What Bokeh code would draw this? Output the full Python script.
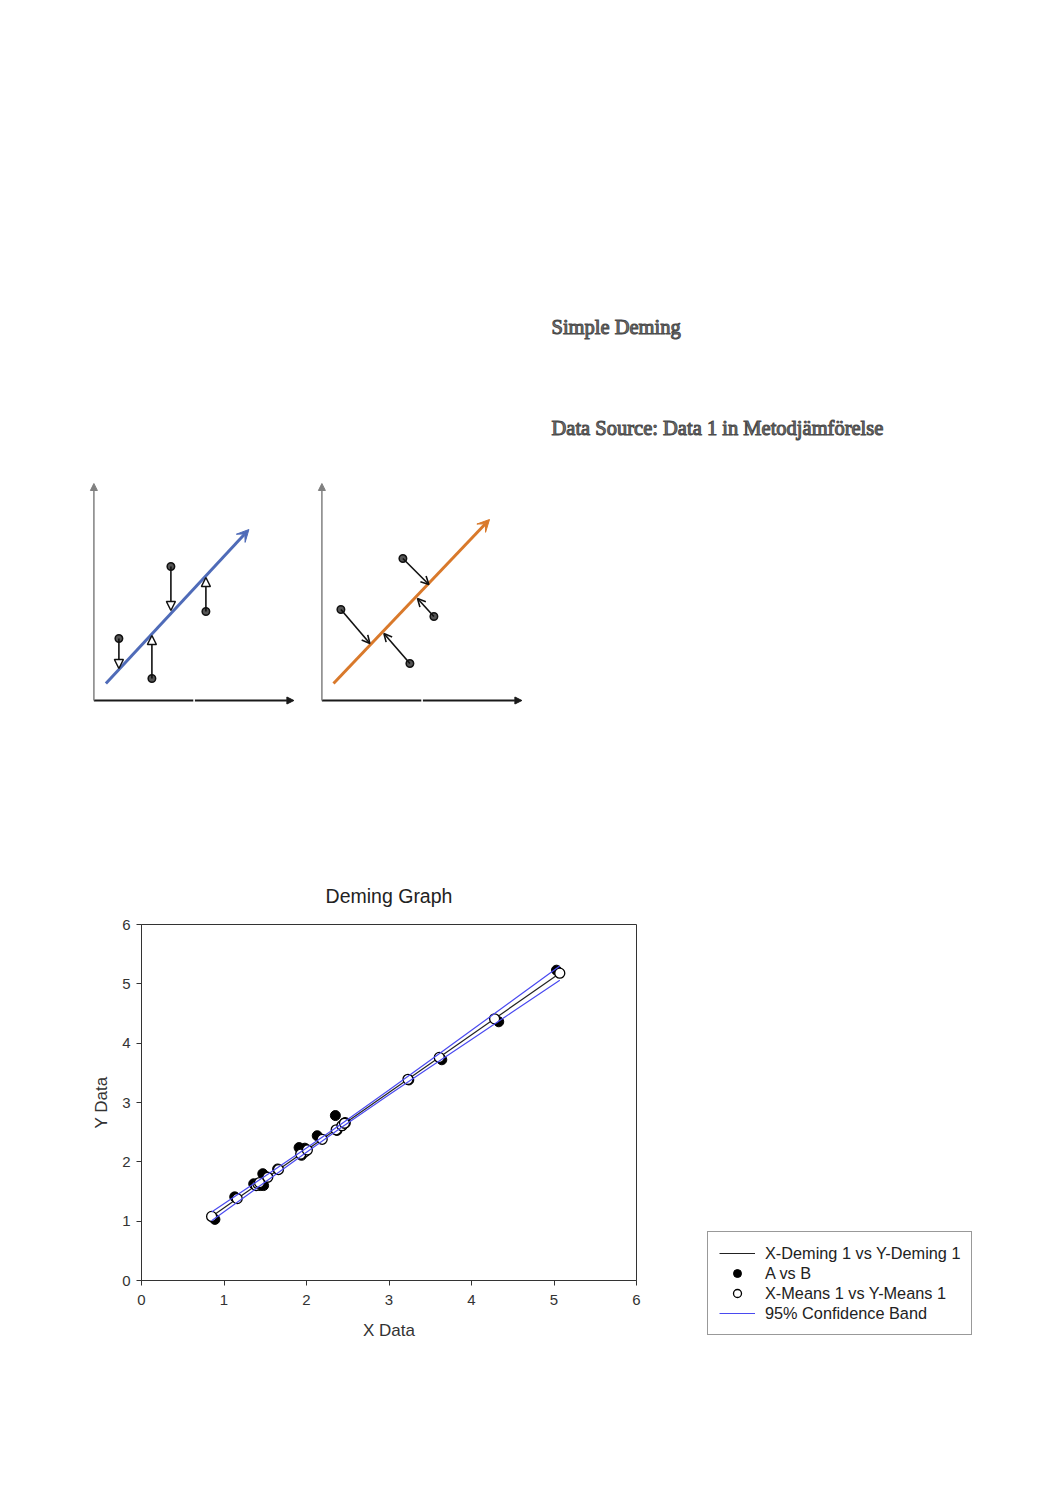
from bokeh.plotting import figure
from bokeh.layouts import column, row
from bokeh.models import (Spacer, Range1d, FixedTicker, Arrow, VeeHead, NormalHead, OpenHead,
                          ColumnDataSource, Legend, LegendItem)
from bokeh.core.properties import value
from bokeh.embed import file_html
from bokeh.resources import INLINE

# ---------------- data ----------------
# Deming graph: raw pairs (A vs B)
a_x = [0.89, 1.13, 1.36, 1.44, 1.47, 1.48, 1.65, 1.91, 1.94, 1.98, 2.13, 2.35, 2.37, 2.43, 2.46, 3.24, 3.64, 4.33, 5.03]
a_y = [1.03, 1.41, 1.63, 1.60, 1.80, 1.60, 1.88, 2.24, 2.11, 2.23, 2.44, 2.78, 2.53, 2.61, 2.65, 3.38, 3.72, 4.36, 5.23]
# X-Means 1 vs Y-Means 1 (points on the Deming line)
means_x = [0.85, 1.16, 1.39, 1.41, 1.53, 1.43, 1.66, 1.98, 1.93, 2.01, 2.19, 2.47, 2.36, 2.43, 2.46, 3.23, 3.61, 4.28, 5.07]
means_y = [1.08, 1.38, 1.60, 1.63, 1.74, 1.65, 1.87, 2.17, 2.13, 2.20, 2.38, 2.66, 2.54, 2.61, 2.65, 3.39, 3.76, 4.41, 5.18]
# X-Deming 1 vs Y-Deming 1
deming_x = [0.85, 5.07]
deming_y = [1.08, 5.18]
# 95% confidence band
band_x = [0.85, 1.5, 2.0, 2.4, 3.0, 3.5, 4.0, 4.5, 5.07]
band_upper = [1.154, 1.761, 2.233, 2.616, 3.209, 3.712, 4.217, 4.723, 5.30]
band_lower = [1.006, 1.661, 2.161, 2.556, 3.129, 3.598, 4.063, 4.529, 5.06]
ticks = [0, 1, 2, 3, 4, 5, 6]
legend_labels = ["X-Deming 1 vs Y-Deming 1", "A vs B", "X-Means 1 vs Y-Means 1", "95% Confidence Band"]

# Schematic diagrams (ordinary least squares vs Deming residuals)
ols_line_x = [0.6, 7.75]
ols_line_y = [0.85, 8.55]
ols_pts_x = [1.25, 2.9, 3.85, 5.6]
ols_pts_y = [3.1, 1.1, 6.7, 4.45]
ols_head_x = [1.25, 2.9, 3.85, 5.6]
ols_head_y = [1.6, 3.25, 4.5, 6.15]

dem_line_x = [0.58, 8.38]
dem_line_y = [0.85, 9.05]
dem_pts_x = [0.95, 4.4, 4.05, 5.6]
dem_pts_y = [4.55, 1.85, 7.1, 4.2]
dem_head_x = [2.4, 3.1, 5.35, 4.78]
dem_head_y = [2.85, 3.35, 5.8, 5.1]

info_texts = ["Simple Deming", "Data Source: Data 1 in Metodjämförelse"]
info_x = [19, 19]
info_y = [26, 127]

SANS = "Liberation Sans"
BLUE = "#4a4af0"


def diagram(lx, ly, line_color, px, py, hx, hy, head):
    d = figure(width=225, height=420, x_range=Range1d(-0.72, 10.53), y_range=Range1d(-1, 20),
               x_axis_type=None, y_axis_type=None, min_border=0, toolbar_location=None,
               output_backend="svg")
    d.outline_line_color = None
    d.xgrid.visible = False
    d.ygrid.visible = False
    # axes of the sketch
    d.add_layout(Arrow(x_start=0, y_start=0, x_end=0, y_end=10.85, line_color="#808080", line_width=1.5,
                       end=NormalHead(size=7, fill_color="#808080", line_color="#808080")))
    d.segment(x0=[0], y0=[0], x1=[4.97], y1=[0], line_color="#1a1a1a", line_width=2)
    d.add_layout(Arrow(x_start=5.05, y_start=0, x_end=10, y_end=0, line_color="#1a1a1a", line_width=2,
                       end=NormalHead(size=7, fill_color="#1a1a1a", line_color="#1a1a1a")))
    # fitted line
    d.add_layout(Arrow(x_start=lx[0], y_start=ly[0], x_end=lx[1], y_end=ly[1], line_color=line_color,
                       line_width=3, end=VeeHead(size=12, fill_color=line_color, line_color=line_color)))
    src = ColumnDataSource(dict(x0=px, y0=py, x1=hx, y1=hy))
    d.add_layout(Arrow(source=src, x_start="x0", y_start="y0", x_end="x1", y_end="y1",
                       line_color="#111111", line_width=1.6, end=head))
    d.scatter(px, py, size=7.5, fill_color="#555555", line_color="#111111", line_width=1.5)
    return d


d1 = diagram(ols_line_x, ols_line_y, "#4f6bb8", ols_pts_x, ols_pts_y, ols_head_x, ols_head_y,
             NormalHead(size=9, fill_color="white", line_color="#111111", line_width=1.5))
d2 = diagram(dem_line_x, dem_line_y, "#d9792b", dem_pts_x, dem_pts_y, dem_head_x, dem_head_y,
             OpenHead(size=8, line_color="#111111", line_width=1.6))

t = figure(width=512, height=420, x_range=Range1d(0, 512), y_range=Range1d(420, 0),
           x_axis_type=None, y_axis_type=None, min_border=0, toolbar_location=None,
           output_backend="svg")
t.outline_line_color = None
t.xgrid.visible = False
t.ygrid.visible = False
t.text(x=info_x, y=info_y, text=info_texts, text_font=value("Liberation Serif"),
       text_font_size="20.5px", text_baseline="middle", text_align="left", text_color="#777777",
       text_outline_color="#4a4a4a")

# ---------------- main chart ----------------
p = figure(width=580, height=488, x_range=Range1d(0, 6), y_range=Range1d(0, 6),
           min_border_left=61, min_border_right=24, min_border_top=62, min_border_bottom=70,
           toolbar_location=None, output_backend="svg", title="Deming Graph")
p.title.align = "center"
p.title.text_font = SANS
p.title.text_font_size = "19.5px"
p.title.text_font_style = "normal"
p.title.text_color = "#222222"
p.title.standoff = 36
p.xgrid.visible = False
p.ygrid.visible = False
p.outline_line_color = "#333333"
p.outline_line_width = 1
for ax in (p.xaxis[0], p.yaxis[0]):
    ax.ticker = FixedTicker(ticks=ticks)
    ax.major_tick_in = 0
    ax.major_tick_out = 5
    ax.minor_tick_out = 0
    ax.minor_tick_in = 0
    ax.axis_line_color = "#333333"
    ax.major_tick_line_color = "#333333"
    ax.major_label_text_font = SANS
    ax.major_label_text_font_size = "15px"
    ax.major_label_text_color = "#333333"
    ax.axis_label_text_font = SANS
    ax.axis_label_text_font_size = "17px"
    ax.axis_label_text_font_style = "normal"
    ax.axis_label_text_color = "#333333"
p.xaxis.axis_label = "X Data"
p.yaxis.axis_label = "Y Data"
p.xaxis.major_label_standoff = 9
p.yaxis.major_label_standoff = 6
p.xaxis.axis_label_standoff = 13
p.yaxis.axis_label_standoff = 8

p.line(deming_x, deming_y, line_color="#222222", line_width=1.2)
p.scatter(a_x, a_y, size=10, fill_color="black", line_color="black")
p.scatter(means_x, means_y, size=10, fill_color="white", line_color="black", line_width=1.3)
p.line(band_x, band_upper, line_color=BLUE, line_width=1.2)
p.line(band_x, band_lower, line_color=BLUE, line_width=1.2)

# ---------------- legend ----------------
lg = figure(width=290, height=110, x_range=Range1d(0, 1), y_range=Range1d(0, 1),
            x_axis_type=None, y_axis_type=None, min_border=0, toolbar_location=None,
            output_backend="svg")
lg.outline_line_color = None
lg.xgrid.visible = False
lg.ygrid.visible = False
off = [-5, -4]  # legend-only renderers, kept outside the visible range
r1 = lg.line(off, off, line_color="#222222", line_width=1.2)
r2 = lg.scatter(off, off, size=10, fill_color="black", line_color="black")
r3 = lg.scatter(off, off, size=10, fill_color="white", line_color="black", line_width=1.3)
r4 = lg.line(off, off, line_color=BLUE, line_width=1.2)
legend = Legend(items=[LegendItem(label=legend_labels[i], renderers=[r]) for i, r in enumerate([r1, r2, r3, r4])],
                location="top_left", margin=0, padding=11, spacing=0, glyph_width=36, glyph_height=20,
                label_height=20, label_standoff=10, label_text_font=SANS, label_text_font_size="16.3px",
                label_text_color="#222222", border_line_color="#333333", border_line_width=1.5,
                background_fill_color="white", background_fill_alpha=1)
lg.add_layout(legend, "center")

layout = column(
    Spacer(width=10, height=300),
    row(Spacer(width=79, height=10), d1, Spacer(width=3, height=10), d2, t),
    Spacer(width=10, height=142),
    row(Spacer(width=80, height=10), p, Spacer(width=47, height=10),
        column(Spacer(width=10, height=369), lg)),
)

open("out.html", "w").write(file_html(layout, INLINE))
